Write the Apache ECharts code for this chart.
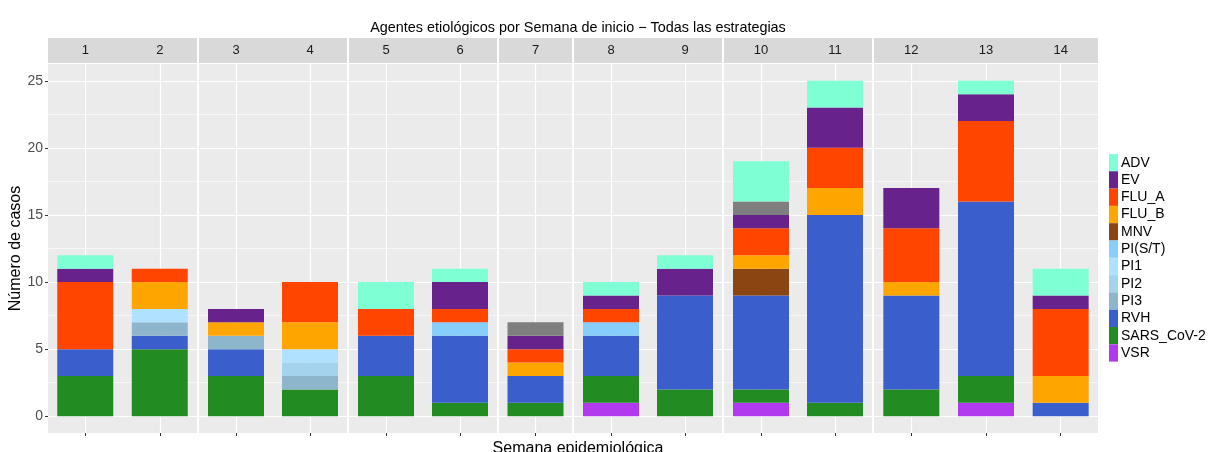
<!DOCTYPE html>
<html>
<head>
<meta charset="utf-8">
<script src="https://cdn.jsdelivr.net/npm/echarts@6/dist/echarts.min.js"></script>
<style>
  html, body { margin: 0; background: #fff; }
  #chart { width: 1209px; height: 452px; }
</style>
</head>
<body>
<div id="chart"></div>
<script>
// semanas epidemiológicas y agrupación de paneles
const weeks = ["1", "2", "3", "4", "5", "6", "7", "8", "9", "10", "11", "12", "13", "14"];
const panels = [[1, 2], [3, 4], [5, 6], [7], [8, 9], [10, 11], [12, 13, 14]];
const yTicks = [0, 5, 10, 15, 20, 25];
const yMinor = [2.5, 7.5, 12.5, 17.5, 22.5];
const yMin = -1.25, yMax = 26.25, yStep = 1.25;

// casos por agente, semana 1..14
const ADV    = [1, 0, 0, 0, 2, 1, 0, 1, 1, 3, 2, 0, 1, 2];
const NA     = [0, 0, 0, 0, 0, 0, 1, 0, 0, 1, 0, 0, 0, 0];
const EV     = [1, 0, 1, 0, 0, 2, 1, 1, 2, 1, 3, 3, 2, 1];
const FLU_A  = [5, 1, 0, 3, 2, 1, 1, 1, 0, 2, 3, 4, 6, 5];
const FLU_B  = [0, 2, 1, 2, 0, 0, 1, 0, 0, 1, 2, 1, 0, 2];
const MNV    = [0, 0, 0, 0, 0, 0, 0, 0, 0, 2, 0, 0, 0, 0];
const PI_ST  = [0, 0, 0, 0, 0, 1, 0, 1, 0, 0, 0, 0, 0, 0];
const PI1    = [0, 1, 0, 1, 0, 0, 0, 0, 0, 0, 0, 0, 0, 0];
const PI2    = [0, 0, 0, 1, 0, 0, 0, 0, 0, 0, 0, 0, 0, 0];
const PI3    = [0, 1, 1, 1, 0, 0, 0, 0, 0, 0, 0, 0, 0, 0];
const RVH    = [2, 1, 2, 0, 3, 5, 2, 3, 7, 7, 14, 7, 13, 1];
const SARS   = [3, 5, 3, 2, 3, 1, 1, 2, 2, 1, 1, 2, 2, 0];
const VSR    = [0, 0, 0, 0, 0, 0, 0, 1, 0, 1, 0, 0, 1, 0];

const legendNames = ["ADV", "EV", "FLU_A", "FLU_B", "MNV", "PI(S/T)", "PI1", "PI2", "PI3", "RVH", "SARS_CoV-2", "VSR"];

// orden de apilado: de abajo hacia arriba
const agents = [
  { name: "VSR", color: "#B23AEE", data: VSR },
  { name: "SARS_CoV-2", color: "#228B22", data: SARS },
  { name: "RVH", color: "#3A5FCD", data: RVH },
  { name: "PI3", color: "#8DB6CD", data: PI3 },
  { name: "PI2", color: "#A4D3EE", data: PI2 },
  { name: "PI1", color: "#B0E2FF", data: PI1 },
  { name: "PI(S/T)", color: "#87CEFA", data: PI_ST },
  { name: "MNV", color: "#8B4513", data: MNV },
  { name: "FLU_B", color: "#FFA500", data: FLU_B },
  { name: "FLU_A", color: "#FF4500", data: FLU_A },
  { name: "EV", color: "#68228B", data: EV },
  { name: "NA", color: "#7F7F7F", data: NA },
  { name: "ADV", color: "#7FFFD4", data: ADV },
];

const FONT = "'Liberation Sans', Arial, sans-serif";
const PLOT_L = 48, COL = 75;
const nP = panels.length;

// posiciones auxiliares (categoría sin boundaryGap) para la rejilla
const ySlots = [];
for (let v = yMin; v <= yMax + 1e-9; v += yStep) ySlots.push(String(+v.toFixed(2)));

const grid = [], xAxis = [], yAxis = [], series = [];
let start = 0;
panels.forEach((wk, g) => {
  const n = wk.length;
  const x0 = PLOT_L + COL * start + (start > 0 ? 1 : 0);
  const x1 = PLOT_L + COL * (start + n) - (start + n < weeks.length ? 1 : 0);
  start += n;
  const labels = wk.map(w => weeks[w - 1]);
  // '', '1', '', '2', '' ... => los centros de banda quedan en índices impares
  const xSlots = [""];
  labels.forEach(l => xSlots.push(l, ""));

  grid[g] = { left: x0, width: x1 - x0, top: 64, height: 369, show: true, backgroundColor: "#EBEBEB", borderWidth: 0 };
  grid[nP + g] = { left: x0, width: x1 - x0, top: 38, height: 25, show: true, backgroundColor: "#D9D9D9", borderWidth: 0 };

  // eje de las barras
  xAxis[g] = {
    type: "category", gridIndex: g, position: "bottom", data: labels,
    axisLine: { show: false }, axisTick: { show: false }, axisLabel: { show: false }, splitLine: { show: false },
  };
  // etiquetas de faceta
  xAxis[nP + g] = {
    type: "category", gridIndex: nP + g, position: "top", data: labels,
    axisLine: { show: false }, axisTick: { show: false }, splitLine: { show: false },
    axisLabel: { margin: -19, color: "#1A1A1A", fontSize: 13, fontFamily: FONT },
  };
  // rejilla vertical y marcas al centro de cada semana
  const isCenter = (i, v) => v !== "";
  xAxis[2 * nP + g] = {
    type: "category", gridIndex: g, position: "bottom", data: xSlots, boundaryGap: false,
    axisLine: { show: false },
    axisLabel: { show: false },
    axisTick: { show: true, interval: isCenter, length: 3, lineStyle: { color: "#333" } },
    splitLine: { show: true, interval: isCenter, lineStyle: { color: "#FFFFFF", width: 1.2 } },
  };

  // eje de valores de las barras
  yAxis[g] = {
    type: "value", gridIndex: g, position: "left", min: yMin, max: yMax, interval: yStep,
    axisLine: { show: false },
    axisTick: { show: g === 0, customValues: yTicks, length: 3, lineStyle: { color: "#333" } },
    axisLabel: { show: g === 0, customValues: yTicks, color: "#4D4D4D", fontSize: 14, fontFamily: FONT, margin: 5 },
    splitLine: { show: false },
    name: g === 0 ? "Número de casos" : "",
    nameLocation: "middle", nameGap: 21,
    nameTextStyle: { fontSize: 16, color: "#000", fontFamily: FONT },
  };
  // rejilla horizontal mayor y menor
  yAxis[nP + g] = {
    type: "category", gridIndex: g, position: "left", data: ySlots, boundaryGap: false,
    axisLine: { show: false }, axisTick: { show: false }, axisLabel: { show: false },
    splitLine: { show: true, interval: (i, v) => yTicks.includes(+v), lineStyle: { color: "#FFFFFF", width: 1.2 } },
  };
  yAxis[2 * nP + g] = {
    type: "category", gridIndex: g, position: "left", data: ySlots, boundaryGap: false,
    axisLine: { show: false }, axisTick: { show: false }, axisLabel: { show: false },
    splitLine: { show: true, interval: (i, v) => yMinor.includes(+v), lineStyle: { color: "#FFFFFF", width: 0.6 } },
  };
  yAxis[3 * nP + g] = { type: "value", gridIndex: nP + g, show: false };

  agents.forEach(a => {
    series.push({
      type: "bar", name: a.name, xAxisIndex: g, yAxisIndex: g, stack: "p" + g,
      barWidth: 56,
      itemStyle: { color: a.color },
      emphasis: { disabled: true },
      data: wk.map(w => a.data[w - 1]),
    });
  });
});

const chart = echarts.init(document.getElementById("chart"));
chart.setOption({
  animation: false,
  backgroundColor: "#FFFFFF",
  title: [
    {
      text: "Agentes etiológicos por Semana de inicio − Todas las estrategias",
      left: 573, top: 16, textAlign: "center",
      textStyle: { fontSize: 14.4, fontWeight: "normal", color: "#000", fontFamily: FONT },
    },
    {
      text: "Semana epidemiológica",
      left: 573, top: 436, textAlign: "center",
      textStyle: { fontSize: 16, fontWeight: "normal", color: "#000", fontFamily: FONT },
    },
  ],
  legend: {
    data: legendNames,
    orient: "vertical", left: 1104, top: 149,
    icon: "rect", itemWidth: 9, itemHeight: 17.3, itemGap: 0,
    textStyle: { fontSize: 14, color: "#000", fontFamily: FONT, padding: [0, 0, 0, -2] },
  },
  tooltip: { show: false },
  grid, xAxis, yAxis, series,
});
</script>
</body>
</html>
